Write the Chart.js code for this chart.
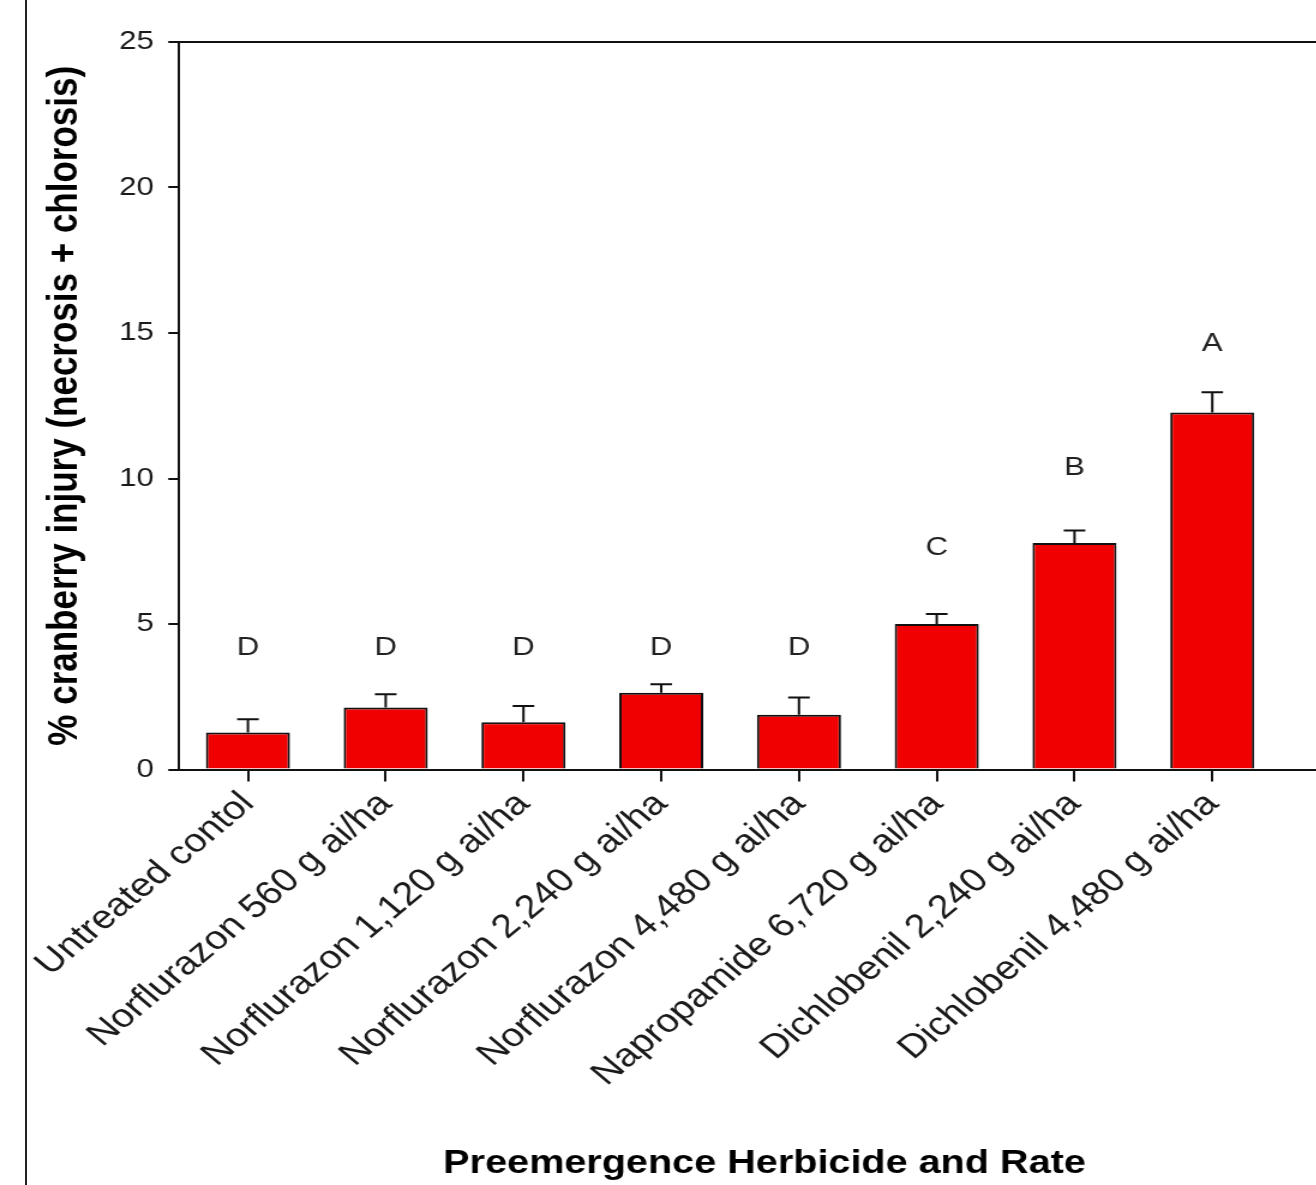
<!DOCTYPE html>
<html>
<head>
<meta charset="utf-8">
<script src="https://cdn.jsdelivr.net/npm/chart.js@4"></script>
<style>
  html, body { margin: 0; padding: 0; background: #fff; overflow: hidden; width: 1316px; height: 1185px; }
  #frame { position: absolute; left: 0; top: 0; width: 1125px; height: 1185px; transform: scaleX(1.2); transform-origin: 0 0; }
  #edge { position: absolute; left: 25px; top: 0; width: 2px; height: 1185px; background: #222; }
</style>
</head>
<body>
<div id="frame"><canvas id="c" width="1125" height="1185"></canvas></div>
<div id="edge"></div>
<script>
// Treatments (x categories)
const categories = [
  'Untreated contol',
  'Norflurazon 560 g ai/ha',
  'Norflurazon 1,120 g ai/ha',
  'Norflurazon 2,240 g ai/ha',
  'Norflurazon 4,480 g ai/ha',
  'Napropamide 6,720 g ai/ha',
  'Dichlobenil 2,240 g ai/ha',
  'Dichlobenil 4,480 g ai/ha'
];
// Mean injury (%) and standard error
const injury = [1.27, 2.13, 1.62, 2.64, 1.88, 5.00, 7.78, 12.27];
const stdErr = [0.46, 0.46, 0.56, 0.29, 0.59, 0.34, 0.43, 0.69];
// Mean separation letters and the height (in %) where each is printed
const letters = ['D', 'D', 'D', 'D', 'D', 'C', 'B', 'A'];
const letterY = [4.17, 4.17, 4.17, 4.17, 4.17, 7.63, 10.37, 14.63];
// Y axis ticks
const yTicks = [0, 5, 10, 15, 20, 25];

const FONT = "'Liberation Sans', Arial, Helvetica, sans-serif";

const errorBars = {
  id: 'errorBars',
  afterDatasetsDraw(chart) {
    const {ctx, scales: {x, y}} = chart;
    ctx.save();
    ctx.strokeStyle = '#111';
    ctx.lineWidth = 2;
    injury.forEach((v, i) => {
      const px = x.getPixelForValue(i);
      const top = y.getPixelForValue(v + stdErr[i]);
      const base = y.getPixelForValue(v);
      ctx.beginPath();
      ctx.moveTo(px, base);
      ctx.lineTo(px, top);
      ctx.moveTo(px - 9, top);
      ctx.lineTo(px + 9, top);
      ctx.stroke();
    });
    // group letters
    ctx.fillStyle = '#222';
    ctx.font = '26px ' + FONT;
    ctx.textAlign = 'center';
    ctx.textBaseline = 'middle';
    letters.forEach((t, i) => {
      ctx.fillText(t, x.getPixelForValue(i), y.getPixelForValue(letterY[i]));
    });
    ctx.restore();
  }
};

new Chart(document.getElementById('c'), {
  type: 'bar',
  data: {
    datasets: [{
      data: injury.map((v, i) => ({x: i, y: v})),
      backgroundColor: '#f00000',
      borderColor: '#111',
      borderWidth: 2,
      barPercentage: 0.61,
      categoryPercentage: 1
    }]
  },
  options: {
    responsive: false,
    animation: false,
    layout: {padding: {top: 42, left: 0, right: 0, bottom: 0}},
    plugins: {legend: {display: false}, tooltip: {enabled: false}},
    scales: {
      x: {
        type: 'linear',
        position: 'bottom',
        offset: false,
        min: -0.5,
        max: 8,
        afterFit: s => { s.height = 415.5; },
        afterBuildTicks: s => { s.ticks = categories.map((_, i) => ({value: i})); },
        grid: {display: true, offset: false, drawOnChartArea: false, drawTicks: true, tickLength: 12, color: '#111', lineWidth: 2},
        border: {display: true, color: '#111', width: 2},
        ticks: {
          autoSkip: false,
          maxRotation: 45,
          minRotation: 45,
          padding: 3,
          color: '#1a1a1a',
          font: {family: FONT, size: 33},
          callback: v => categories[v]
        },
        title: {
          display: true,
          text: 'Preemergence Herbicide and Rate',
          color: '#000',
          font: {family: FONT, size: 33, weight: 'bold'},
          padding: {top: 0, bottom: 1}
        }
      },
      xTop: {
        type: 'linear',
        position: 'top',
        offset: false,
        min: -0.5,
        max: 8,
        afterFit: s => { s.height = 0; },
        grid: {display: false},
        ticks: {display: false},
        border: {display: true, color: '#111', width: 2}
      },
      y: {
        min: 0,
        max: 25,
        afterFit: s => { s.width = 149.2; },
        afterBuildTicks: s => { s.ticks = yTicks.map(v => ({value: v})); },
        grid: {display: true, drawOnChartArea: false, drawTicks: true, tickLength: 9, color: '#111', lineWidth: 2},
        border: {display: true, color: '#111', width: 2},
        ticks: {
          padding: 12,
          color: '#1a1a1a',
          font: {family: FONT, size: 26}
        },
        title: {
          display: true,
          text: '% cranberry injury (necrosis + chlorosis)',
          color: '#000',
          font: {family: FONT, size: 35, weight: 'bold'},
          padding: {top: 33, bottom: 0}
        }
      }
    }
  },
  plugins: [errorBars]
});
</script>
</body>
</html>
